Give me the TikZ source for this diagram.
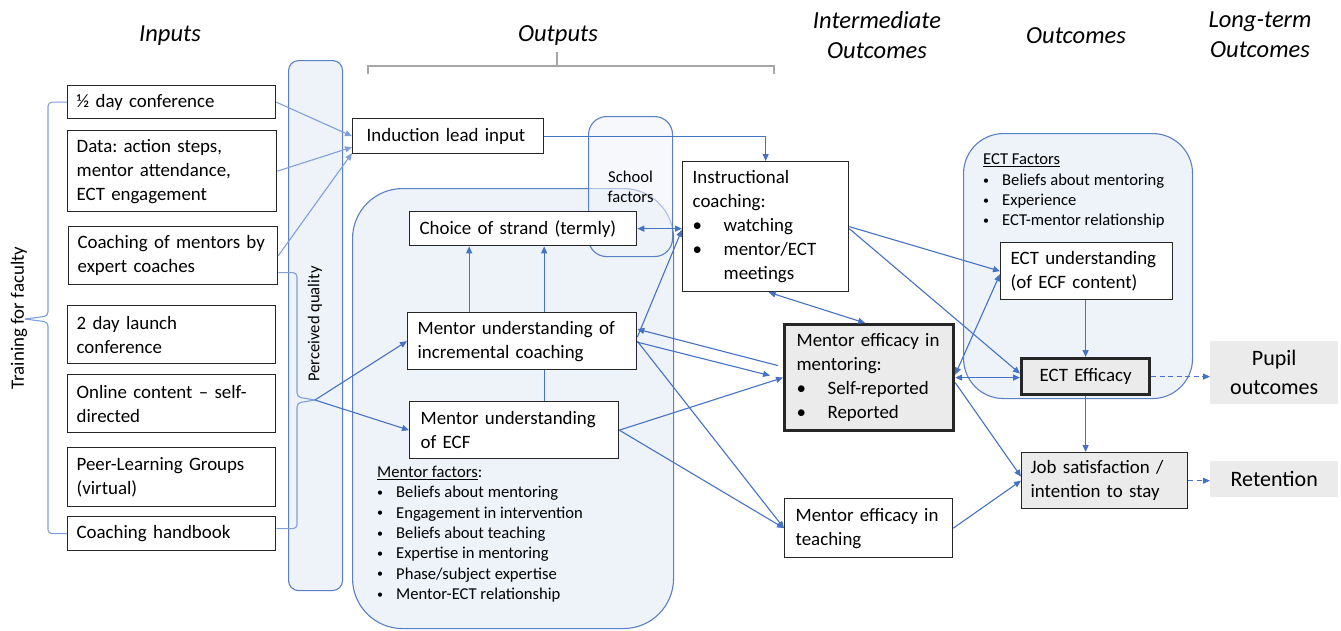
\documentclass[tikz,border=0pt]{standalone}
\usepackage{fontspec}
\setmainfont{Carlito}
\usetikzlibrary{arrows.meta,calc}

\definecolor{linkblue}{HTML}{4472C4}
\definecolor{softblue}{HTML}{7FA0DA}
\definecolor{zoneline}{HTML}{5B80C2}
\definecolor{zonefill}{HTML}{EEF3FA}
\definecolor{boxline}{HTML}{262626}
\definecolor{grayfill}{HTML}{EBEBEB}
\definecolor{bracketgray}{HTML}{A6A6A6}

% no hyphenation inside the boxes
\hyphenpenalty=10000
\exhyphenpenalty=10000

\newcommand{\bodyfont}{\fontsize{18.9}{24}\selectfont}
\newcommand{\listfont}{\fontsize{16.6}{20.3}\selectfont}
\newcommand{\bigfont}{\fontsize{22}{29}\selectfont}
\newcommand{\headfont}{\fontsize{24.5}{30}\selectfont\itshape}
\newcommand{\itembul}{\makebox[31pt][l]{\textbullet}}
\newcommand{\factbul}{\makebox[19pt][l]{\raisebox{1.2pt}{\fontsize{12}{12}\selectfont\textbullet}}}

\tikzset{
  >={Triangle[length=7pt,width=6pt]},
  hdr/.style={font=\headfont, align=center, inner sep=0pt},
  bx/.style={draw=boxline, line width=1.3pt, fill=white, anchor=north west,
    inner xsep=9pt, inner ysep=0pt, align=left, font=\bodyfont},
  heavy/.style={line width=3.2pt, fill=grayfill},
  ghost/.style={fill=grayfill, anchor=north west, inner sep=0pt, align=center, font=\bigfont},
  zone/.style={draw=zoneline, line width=1.1pt, fill=zonefill, anchor=north west, inner sep=0pt},
  factlist/.style={font=\listfont, align=left, inner sep=0pt, anchor=north west},
  conn/.style={draw=linkblue, line width=1.1pt, ->},
  dconn/.style={conn, <->},
  softconn/.style={conn, draw=softblue},
  dashconn/.style={conn, dash pattern=on 5pt off 3.5pt},
  bracecurve/.style={draw=softblue, line width=1.1pt, rounded corners=4pt},
  bracketline/.style={draw=bracketgray, line width=1.1pt},
}

\begin{document}
\begin{tikzpicture}[x=1pt,y=-1pt]
\useasboundingbox (0,0) rectangle (1341,630);

% column headings
\node[hdr] (hin)   at (170,36)  {Inputs};
\node[hdr] (hout)  at (558,36)  {Outputs};
\node[hdr] (hmid)  at (877,35)  {Intermediate\\Outcomes};
\node[hdr] (hres)  at (1076,36) {Outcomes};
\node[hdr] (hlong) at (1260,35) {Long-term\\Outcomes};

% bracket under "Outputs"
\draw[bracketline] (368,74) -- (368,66) -- (774,66) -- (774,74);
\draw[bracketline] (557,66) -- (557,52);

% background zones
\node[zone, rounded corners=10pt, minimum width=54pt, minimum height=530pt] (pq) at (288,60) {};
\node[rotate=90, font=\listfont] (pqlabel) at (315,324) {Perceived quality};
\node[zone, rounded corners=50pt, minimum width=321pt, minimum height=440pt] (mzone) at (352,188) {};
\node[zone, rounded corners=18pt, minimum width=84pt, minimum height=140pt,
      fill opacity=0.55, text opacity=1, align=center, font=\listfont] (school) at (588,116) {School\\factors};
\node[zone, rounded corners=40pt, minimum width=229pt, minimum height=265pt] (ectzone) at (963,133) {};

% inputs
\node[bx, text width=190pt, minimum height=33pt] (half) at (67,85) {½~day~conference};
\node[bx, text width=191pt, minimum height=81pt] (data) at (67,130) {Data:~action~steps,\\mentor~attendance,\\ECT~engagement};
\node[bx, text width=191pt, minimum height=58pt] (coachm) at (68,226) {Coaching~of~mentors~by\\expert~coaches};
\node[bx, text width=190pt, minimum height=58pt] (launch) at (67,305) {2~day~launch\\conference};
\node[bx, text width=190pt, minimum height=58pt] (online) at (67,374) {Online~content~–~self-\\directed};
\node[bx, text width=190pt, minimum height=59pt] (peer) at (67,447) {Peer-Learning~Groups\\(virtual)};
\node[bx, text width=190pt, minimum height=34pt] (handbook) at (67,516) {Coaching~handbook};
\node[rotate=90, font=\bodyfont] (train) at (19,318) {Training for faculty};

% outputs
\node[bx, inner xsep=14pt, text width=163pt, minimum height=35pt] (ind) at (352,118) {Induction~lead~input};
\node[bx, inner xsep=10pt, text width=207pt, minimum height=34pt] (choice) at (409,211) {Choice~of~strand~(termly)};
\node[bx, inner xsep=10pt, text width=209pt, minimum height=57pt] (incr) at (407,312) {Mentor~understanding~of\\incremental~coaching};
\node[bx, inner xsep=11pt, text width=187pt, minimum height=57pt] (ecf) at (409,401) {Mentor~understanding\\of~ECF};
\node[factlist] (mfacts) at (377,466) {\underline{Mentor factors}:\\
  \factbul Beliefs about mentoring\\
  \factbul Engagement in intervention\\
  \factbul Beliefs about teaching\\
  \factbul Expertise in mentoring\\
  \factbul Phase/subject expertise\\
  \factbul Mentor-ECT relationship};

% intermediate outcomes
\node[bx, inner xsep=10pt, text width=146pt, minimum height=130pt] (instr) at (682,161)
  {Instructional\\coaching:\\\itembul watching\\\itembul mentor/ECT\\\hspace*{31pt}meetings};
\node[bx, heavy, inner xsep=12pt, text width=145pt, minimum height=106pt] (mem) at (783,323)
  {Mentor~efficacy~in\\mentoring:\\\itembul Self-reported\\\itembul Reported};
\node[bx, inner xsep=11pt, text width=146pt, minimum height=59pt] (met) at (784,498) {Mentor~efficacy~in\\teaching};

% outcomes
\node[factlist] (efacts) at (983,154) {\underline{ECT Factors}\\
  \factbul Beliefs about mentoring\\
  \factbul Experience\\
  \factbul ECT-mentor relationship};
\node[bx, inner xsep=10pt, text width=152pt, minimum height=57pt] (ectu) at (1000,242) {ECT~understanding\\(of~ECF~content)};
\node[bx, heavy, inner xsep=12pt, text width=104pt, align=center, minimum height=36pt] (ecte) at (1020,357) {ECT~Efficacy};
\node[bx, fill=grayfill, text width=148pt, minimum height=56pt] (job) at (1021,452) {Job~satisfaction~/\\intention~to~stay};

% long-term outcomes
\node[ghost, text width=128pt, minimum height=63pt] (pupil) at (1210,341) {Pupil\\outcomes};
\node[ghost, text width=128pt, minimum height=36pt] (ret) at (1210,461) {Retention};

% braces
\coordinate (ttip) at (25,319);
\draw[bracecurve] (half.west) -| ([xshift=23pt,yshift=3pt]ttip) -- (ttip);
\draw[bracecurve] (handbook.west) -| ([xshift=23pt,yshift=-3pt]ttip) -- (ttip);
\coordinate (ptip) at (315,400);
\draw[bracecurve] ([yshift=-17pt]coachm.east) -| ([xshift=-18pt,yshift=3pt]ptip) -- (ptip);
\draw[bracecurve] ([yshift=5pt]handbook.east) -| ([xshift=-18pt,yshift=-3pt]ptip) -- (ptip);

% connectors
\draw[softconn] (half.east) -- (ind.west);
\draw[softconn] (data.east) -- ([yshift=-11pt]ind.west);
\draw[softconn] (coachm.east) -- ([yshift=-17pt]ind.west);
\draw[conn] (ptip) -- (incr.west);
\draw[conn] (ptip) -- (ecf.west);

\draw[conn] ([xshift=-53pt]incr.north) -- ([xshift=-53pt]incr.north |- choice.south);
\draw[conn] ([xshift=22pt]incr.north) -- ([xshift=22pt]incr.north |- choice.south);
\draw[draw=linkblue, line width=1.1pt] ([xshift=22pt]incr.south) -- ([xshift=22pt]incr.south |- ecf.north);

\draw[conn] (ind.east) -| (instr.north);
\draw[dconn] (choice.east) -- (choice.east -| instr.west);
\draw[conn] ([yshift=4pt]incr.east) -- ([yshift=-3pt]instr.west);

\draw[conn] ([xshift=-5pt,yshift=12pt]mem.west) -- ([yshift=12pt]incr.east);
\draw[conn] ([yshift=-1pt]incr.east) -- ([xshift=-13pt,yshift=2pt]mem.west);
\draw[conn] (ecf.east) -- (mem.west);
\draw[conn] (incr.east) -- (met.west);
\draw[conn] (ecf.east) -- (met.west);

\draw[dconn] ([xshift=3pt]instr.south) -- ([xshift=-4pt]mem.north);
\draw[conn] (instr.east) -- (ectu.west);
\draw[conn] ([yshift=-2pt]instr.east) -- ([yshift=3pt]ecte.west);
\draw[dconn] ([yshift=3pt]mem.east) -- ([yshift=-3pt]ectu.west);
\draw[dconn] (mem.east) -- (mem.east -| ecte.west);
\draw[conn] ([yshift=-5pt]mem.east) -- ([yshift=4pt]job.west);
\draw[conn] (met.east) -- (job.west);

\draw[conn] (ecte.north |- ectu.south) -- (ecte.north);
\draw[conn] (ecte.south) -- (ecte.south |- job.north);
\draw[dashconn] (ecte.east) -- (ecte.east -| pupil.west);
\draw[dashconn] (job.east) -- (job.east -| ret.west);
\end{tikzpicture}
\end{document}
